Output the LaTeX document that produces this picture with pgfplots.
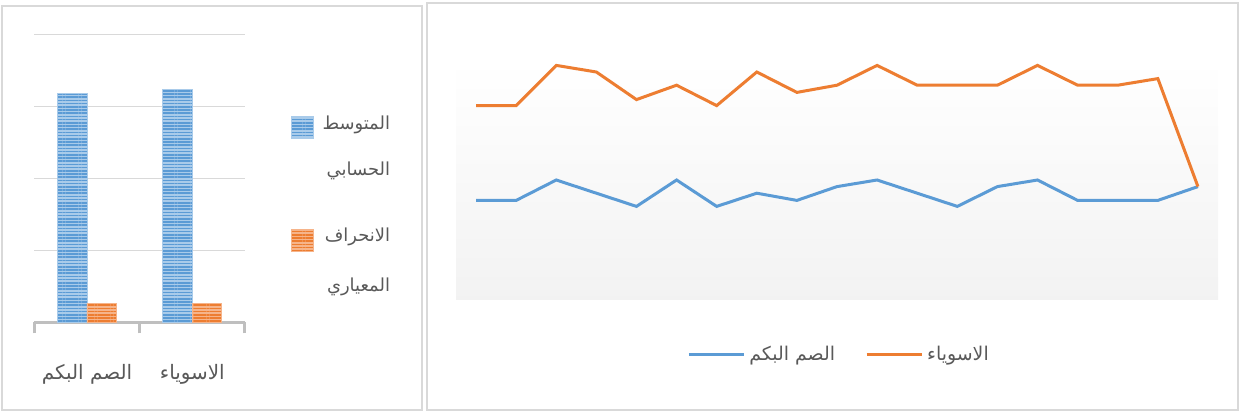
\documentclass[border=0pt]{standalone}
\usepackage{pgfplots}
\pgfplotsset{compat=1.18}
\usepackage{fontspec}
\usetikzlibrary{patterns.meta}
\setmainfont{DejaVu Sans}
\newfontfamily\arabicfont[Script=Arabic]{DejaVu Sans}
\TeXXeTstate=1

\definecolor{framegray}{HTML}{D9D9D9}
\definecolor{gridgray}{HTML}{D9D9D9}
\definecolor{axisgray}{HTML}{BFBFBF}
\definecolor{textgray}{HTML}{595959}
\definecolor{bluedark}{HTML}{5B9BD5}
\definecolor{bluelight}{HTML}{A9CBEA}
\definecolor{orangedark}{HTML}{ED7D31}
\definecolor{orangelight}{HTML}{F6B48A}

\pgfplotsset{
  meanbar/.style={fill=bluelight, draw=bluelight, line width=0.4bp,
    postaction={pattern={Lines[angle=0,distance=1.6bp,line width=0.8bp]}, pattern color=bluedark}},
  sdbar/.style={fill=orangelight, draw=orangelight, line width=0.4bp,
    postaction={pattern={Lines[angle=0,distance=1.6bp,line width=0.8bp]}, pattern color=orangedark}},
  % legend squares, placed on the first text line of each entry
  meankey/.style={legend image code/.code={
    \draw[##1] (0bp,-8bp) rectangle (10.8bp,3bp); \path (0bp,8bp);}},
  sdkey/.style={legend image code/.code={
    \draw[##1] (0bp,-17bp) rectangle (10.8bp,-6bp); \path (0bp,17bp);}},
}
% legend rows: a strut sets the height of each row
\newcommand\legrow[2]{\rule{0pt}{#1}\beginR #2\endR}

\begin{document}
\begin{tikzpicture}
\useasboundingbox (0bp,0bp) rectangle (620bp,207bp);
% frames of the two panels
\draw[framegray, line width=1bp] (1bp,2bp) rectangle (211bp,204bp);
\draw[framegray, line width=1bp] (213.5bp,2bp) rectangle (619bp,205.5bp);

% ---- mean and standard deviation per group ----
\begin{axis}[
  at={(17.15bp,45.85bp)}, anchor=south west,
  scale only axis, width=105.35bp, height=144bp,
  xmin=0.5, xmax=2.5, ymin=0, ymax=4,
  ybar=0pt, bar width=0.28,
  axis lines*=left,
  y axis line style={draw=none},
  x axis line style={draw=axisgray, line width=1.5bp},
  xtick={0.5,1.5,2.5}, xticklabels={},
  tick align=outside,
  major tick length=5.5bp,
  xtick style={draw=axisgray, line width=1.5bp},
  extra x ticks={1,2},
  extra x tick labels={\beginR الصم البكم\endR, \beginR الاسوياء\endR},
  extra x tick style={major tick length=0pt,
    tick label style={yshift=-17.5bp}},
  ytick={1,2,3,4}, yticklabels={},
  ytick style={draw=none},
  ymajorgrids, grid style={gridgray, line width=0.6bp},
  tick label style={font=\arabicfont\fontsize{10}{12}\selectfont, text=textgray},
  legend cell align=right,
  legend style={at={(1.217,0.752)}, anchor=north west, draw=none, fill=none,
    inner sep=0pt, row sep=0pt, column sep=2.5bp,
    font=\arabicfont\fontsize{9}{11}\selectfont, text=textgray},
]
\addplot[meanbar, meankey] coordinates {(1,3.18) (2,3.24)};
\addlegendentry{\legrow{8bp}{المتوسط}}
\addlegendimage{empty legend}
\addlegendentry{\legrow{16.5bp}{الحسابي}}
\addplot[sdbar, sdkey] coordinates {(1,0.26) (2,0.26)};
\addlegendentry{\legrow{26bp}{الانحراف}}
\addlegendimage{empty legend}
\addlegendentry{\legrow{18bp}{المعياري}}
\end{axis}

% ---- item by item profile of the two groups ----
\begin{axis}[
  at={(228bp,57bp)}, anchor=south west,
  scale only axis, width=381bp, height=120bp,
  xmin=0.5, xmax=19.5, ymin=0, ymax=4,
  axis line style={draw=none},
  xtick=\empty, ytick=\empty,
  axis background/.style={top color=white, bottom color=black!5},
  legend columns=2,
  legend image code/.code={\draw[#1] (0bp,0bp) -- (27.5bp,0bp);},
  legend style={at={(0.504,-0.229)}, anchor=center, draw=none, fill=none,
    font=\arabicfont\fontsize{9.5}{11}\selectfont, text=textgray,
    /tikz/every even column/.append style={column sep=13bp}},
]
\addplot[bluedark, line width=1.5bp] coordinates {
  (1,1.66) (2,1.66) (3,2.00) (4,1.78) (5,1.56) (6,2.00) (7,1.56) (8,1.78)
  (9,1.66) (10,1.89) (11,2.00) (12,1.78) (13,1.56) (14,1.89) (15,2.00)
  (16,1.66) (17,1.66) (18,1.66) (19,1.89)};
\addlegendentry{\beginR الصم البكم\endR}
\addplot[orangedark, line width=1.5bp] coordinates {
  (1,3.24) (2,3.24) (3,3.91) (4,3.80) (5,3.34) (6,3.58) (7,3.24) (8,3.80)
  (9,3.46) (10,3.58) (11,3.91) (12,3.58) (13,3.58) (14,3.58) (15,3.91)
  (16,3.58) (17,3.58) (18,3.69) (19,1.89)};
\addlegendentry{\beginR الاسوياء\endR}
\end{axis}
\end{tikzpicture}
\end{document}
